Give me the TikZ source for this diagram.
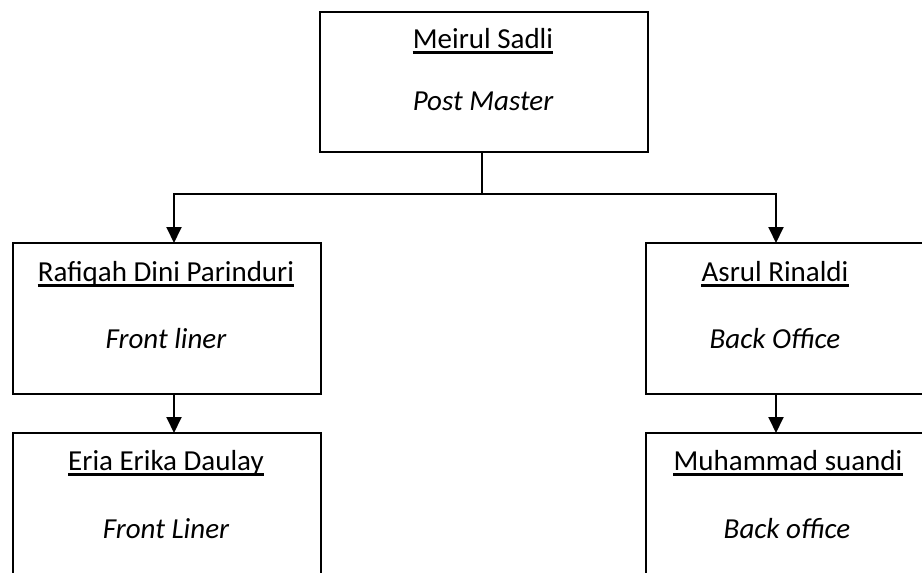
\documentclass[tikz,border=0pt]{standalone}
\usepackage{fontspec}
\setmainfont{Carlito}
\usetikzlibrary{arrows.meta}
\begin{document}
\begin{tikzpicture}[x=1pt,y=-1pt,
  orgbox/.style={draw, line width=2pt, inner sep=0pt, anchor=north west},
  conn/.style={line width=1.9pt},
  arr/.style={line width=1.9pt, -{Triangle[length=16pt,width=15pt]}, shorten >=-1pt},
  nmtext/.style={inner sep=0pt, anchor=base, font=\fontsize{29}{34}\selectfont},
  roletext/.style={inner sep=0pt, anchor=base, font=\fontsize{29}{34}\selectfont\itshape},
  ul/.style={line width=2.8pt}]
\useasboundingbox (0,0) rectangle (922,573);
\clip (0,0) rectangle (922,573);
\fill[white] (0,0) rectangle (922,573);
% boxes
\node[orgbox, minimum width=328pt, minimum height=140pt] (pm) at (319,11) {};
\node[orgbox, minimum width=308pt, minimum height=151pt] (rd) at (12,242) {};
\node[orgbox, minimum width=300pt, minimum height=151pt] (as) at (645,242) {};
\node[orgbox, minimum width=308pt, minimum height=170pt] (er) at (12,432) {};
\node[orgbox, minimum width=300pt, minimum height=170pt] (ms) at (645,432) {};
% texts
\node[nmtext] (t1) at (483,48) {Meirul Sadli};
\node[roletext] (r1) at (483,110) {Post Master};
\node[nmtext] (t2) at (166,281) {Rafiqah Dini Parinduri};
\node[roletext] (r2) at (166,348) {Front liner};
\node[nmtext] (t3) at (775,281) {Asrul Rinaldi};
\node[roletext] (r3) at (775,348) {Back Office};
\node[nmtext] (t4) at (166,470) {Eria Erika Daulay};
\node[roletext] (r4) at (166,538) {Front Liner};
\node[nmtext] (t5) at (788,470) {Muhammad suandi};
\node[roletext] (r5) at (787,538) {Back office};
% underlines
\foreach \t in {t1,t2,t3,t4,t5}
  \draw[ul] ([yshift=-4.6pt]\t.base west) -- ([yshift=-4.6pt]\t.base east);
% connectors
\coordinate (jl) at (174,194);
\coordinate (jr) at (776,194);
\coordinate (jm) at (482,194);
\draw[conn] (pm.south -| jm) -- (jm);
\draw[conn] ([xshift=-0.95pt]jl) -- ([xshift=0.95pt]jr);
\draw[arr] ([yshift=0.95pt]jl) -- (jl |- rd.north);
\draw[arr] ([yshift=0.95pt]jr) -- (jr |- as.north);
\draw[arr] (rd.south -| jl) -- (jl |- er.north);
\draw[arr] (as.south -| jr) -- (jr |- ms.north);
\end{tikzpicture}
\end{document}
